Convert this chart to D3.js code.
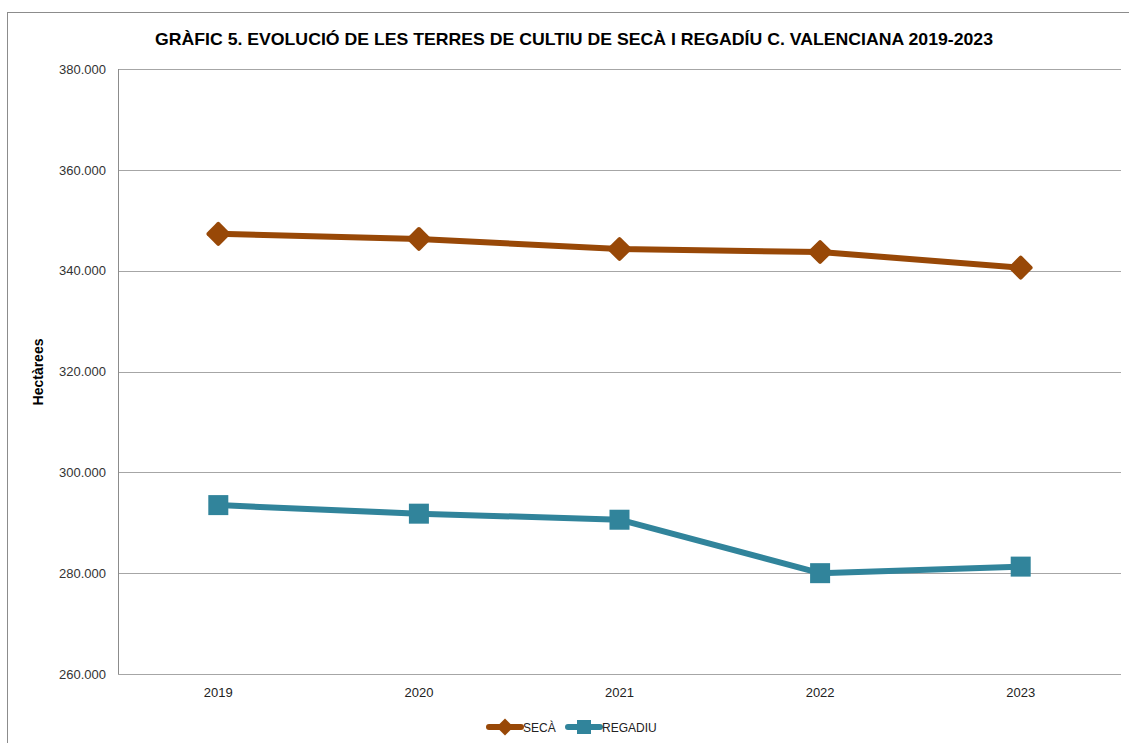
<!DOCTYPE html>
<html>
<head>
<meta charset="utf-8">
<script src="https://cdn.jsdelivr.net/npm/d3@7"></script>
<style>
  body { margin: 0; background: #fff; }
  svg text { font-family: "Liberation Sans", Arial, sans-serif; }
</style>
</head>
<body>
<div class="chart"></div>
<script>
// data
const years = ['2019', '2020', '2021', '2022', '2023'];
const seca = [347300, 346300, 344300, 343700, 340600];
const regadiu = [293500, 291800, 290600, 280000, 281300];
const yTicks = [260000, 280000, 300000, 320000, 340000, 360000, 380000];

const W = 1129, H = 743;
const margin = { top: 69, right: 8, bottom: 69, left: 118 };
const width = W - margin.left - margin.right;
const height = H - margin.top - margin.bottom;

const svg = d3.select('.chart')
	.append('svg')
		.attr('width', W)
		.attr('height', H);

// outer chart frame
svg.append('rect')
	.attr('x', 7.5).attr('y', 12.5)
	.attr('width', W).attr('height', H)
	.attr('fill', 'none')
	.attr('stroke', '#8c8c8c');

svg.append('text')
	.attr('x', 574).attr('y', 45)
	.attr('text-anchor', 'middle')
	.attr('font-weight', 'bold')
	.attr('font-size', 17)
	.attr('textLength', 838)
	.attr('lengthAdjust', 'spacingAndGlyphs')
	.text('GRÀFIC 5. EVOLUCIÓ DE LES TERRES DE CULTIU DE SECÀ I REGADÍU C. VALENCIANA 2019-2023');

const g = svg.append('g')
	.attr('transform', `translate(${margin.left}, ${margin.top})`);

const yScale = d3.scaleLinear()
	.domain([260000, 380000])
	.range([height, 0]);

const xScale = d3.scaleBand()
	.domain(years)
	.range([0, width]);

const fmt = d => d3.format(',')(d).replace(/,/g, '.');

// gridlines
g.selectAll('.grid')
	.data(yTicks)
	.enter()
	.append('line')
		.attr('x1', 0).attr('x2', width)
		.attr('y1', d => Math.round(yScale(d)) + 0.5)
		.attr('y2', d => Math.round(yScale(d)) + 0.5)
		.attr('stroke', '#a6a6a6')
		.attr('stroke-width', 1);

g.append('line')
	.attr('x1', 0.5).attr('x2', 0.5)
	.attr('y1', 0).attr('y2', height)
	.attr('stroke', '#8c8c8c');

const yAxis = d3.axisLeft(yScale)
	.tickValues(yTicks)
	.tickFormat(fmt)
	.tickSize(0)
	.tickPadding(12);
g.append('g')
	.call(yAxis)
	.call(s => s.select('.domain').remove())
	.selectAll('text')
		.attr('font-size', 13)
		.attr('fill', '#333')
		.style('font-family', '"Liberation Sans", Arial, sans-serif');

const xAxis = d3.axisBottom(xScale).tickSize(0).tickPadding(14);
g.append('g')
	.attr('transform', `translate(0, ${height})`)
	.call(xAxis)
	.call(s => s.select('.domain').remove())
	.selectAll('text')
		.attr('font-size', 13)
		.attr('fill', '#222')
		.style('font-family', '"Liberation Sans", Arial, sans-serif');

svg.append('text')
	.attr('transform', 'translate(43, 372) rotate(-90)')
	.attr('text-anchor', 'middle')
	.attr('font-weight', 'bold')
	.attr('font-size', 14)
	.text('Hectàrees');

const series = [
	{ name: 'SECÀ', values: seca, color: '#984807', marker: 'diamond' },
	{ name: 'REGADIU', values: regadiu, color: '#31849b', marker: 'square' }
];

const line = d3.line()
	.x((d, i) => xScale(years[i]) + xScale.bandwidth() / 2)
	.y(d => yScale(d));

function drawMarker(sel, type, color) {
	if (type === 'diamond') {
		sel.append('rect')
			.attr('x', -9).attr('y', -9)
			.attr('width', 18).attr('height', 18)
			.attr('rx', 2)
			.attr('transform', sel.attr('transform') + ' rotate(45)')
			.attr('fill', color);
	} else {
		sel.append('rect')
			.attr('x', -10).attr('y', -10)
			.attr('width', 20).attr('height', 20)
			.attr('fill', color);
	}
}

series.forEach(s => {
	g.append('path')
		.datum(s.values)
		.attr('d', line)
		.attr('fill', 'none')
		.attr('stroke', s.color)
		.attr('stroke-width', 6)
		.attr('stroke-linejoin', 'round');

	s.values.forEach((v, i) => {
		const m = g.append('g')
			.attr('transform', `translate(${xScale(years[i]) + xScale.bandwidth() / 2}, ${yScale(v)})`);
		if (s.marker === 'diamond') {
			m.append('rect')
				.attr('x', -9).attr('y', -9)
				.attr('width', 18).attr('height', 18)
				.attr('rx', 2)
				.attr('transform', 'rotate(45)')
				.attr('fill', s.color);
		} else {
			m.append('rect')
				.attr('x', -10).attr('y', -10)
				.attr('width', 20).attr('height', 20)
				.attr('fill', s.color);
		}
	});
});

// legend
const legendItems = [
	{ s: series[0], x: 489 },
	{ s: series[1], x: 568 }
];
legendItems.forEach(({ s, x }) => {
	const lg = svg.append('g').attr('transform', `translate(${x}, 727)`);
	lg.append('line')
		.attr('x1', 0).attr('x2', 32)
		.attr('stroke', s.color)
		.attr('stroke-width', 6)
		.attr('stroke-linecap', 'round');
	const m = lg.append('g').attr('transform', 'translate(16, 0)');
	if (s.marker === 'diamond') {
		m.append('rect')
			.attr('x', -6).attr('y', -6)
			.attr('width', 12).attr('height', 12)
			.attr('transform', 'rotate(45)')
			.attr('fill', s.color);
	} else {
		m.append('rect')
			.attr('x', -7).attr('y', -7)
			.attr('width', 14).attr('height', 14)
			.attr('fill', s.color);
	}
	lg.append('text')
		.attr('x', 34).attr('y', 5)
		.attr('font-size', 12)
		.attr('fill', '#222')
		.text(s.name);
});
</script>
</body>
</html>
